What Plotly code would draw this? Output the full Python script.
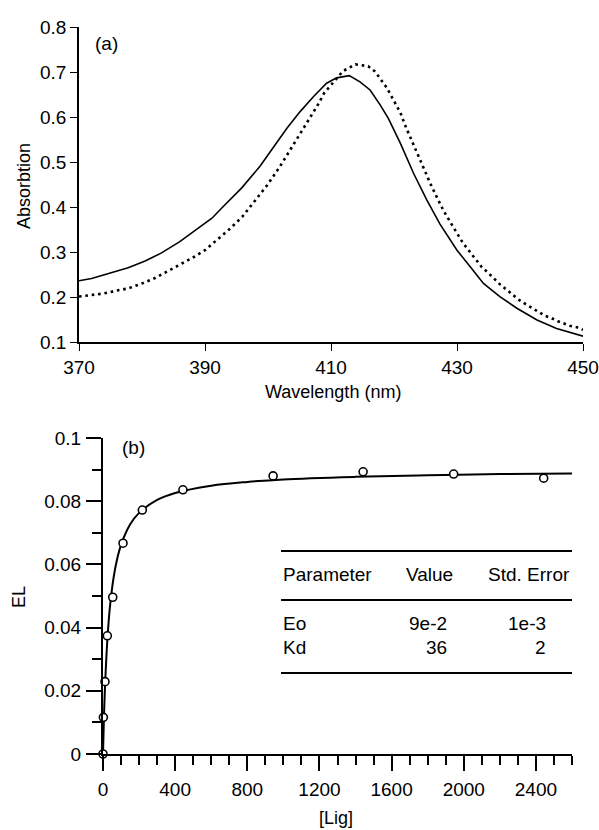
import plotly.graph_objects as go

# panel (a): absorption spectra
wl_solid = [370, 372, 374.7, 377.8, 380.5, 383.1, 386, 388.1, 391.1, 392.9, 395.8, 398.7, 400.6,
            403.0, 405.1, 407.2, 409.3, 410.9, 412.9, 414.6, 416.2, 417.8, 419.1, 421.0, 423.1,
            425.2, 427.3, 428.4, 430, 432.1, 434.2, 436.8, 439.5, 442.7, 445.8, 450]
abs_solid = [0.236, 0.241, 0.252, 0.265, 0.280, 0.298, 0.323, 0.345, 0.375, 0.401, 0.442, 0.490, 0.527,
             0.575, 0.612, 0.645, 0.675, 0.687, 0.692, 0.678, 0.660, 0.627, 0.597, 0.542, 0.475,
             0.416, 0.362, 0.338, 0.304, 0.267, 0.230, 0.201, 0.175, 0.149, 0.130, 0.113]

wl_dot = [370, 372, 374, 375.9, 377.8, 379.8, 381.9, 383.9, 385.9, 388.0, 390.0, 392.0, 393.9,
          395.9, 397.9, 399.9, 401.9, 403.9, 405.9, 406.9, 408.0, 408.9, 409.9, 411.9, 413.9,
          415.9, 417.0, 417.9, 418.9, 419.9, 421.0, 421.9, 422.9, 423.9, 424.9, 425.9, 426.9,
          427.9, 429.0, 430.0, 430.9, 432.0, 432.9, 433.9, 435.0, 435.9, 436.9, 437.9, 438.9,
          439.9, 440.9, 442.0, 443.0, 444.0, 445.0, 446.0, 447.0, 447.9, 449.0, 450]
abs_dot = [0.201, 0.204, 0.208, 0.214, 0.219, 0.229, 0.241, 0.256, 0.271, 0.287, 0.304, 0.328, 0.351,
           0.378, 0.413, 0.449, 0.490, 0.536, 0.580, 0.606, 0.629, 0.653, 0.669, 0.702, 0.717,
           0.713, 0.701, 0.684, 0.664, 0.638, 0.610, 0.577, 0.545, 0.512, 0.478, 0.448, 0.419,
           0.391, 0.365, 0.342, 0.321, 0.301, 0.284, 0.267, 0.253, 0.240, 0.227, 0.216, 0.204,
           0.193, 0.184, 0.175, 0.166, 0.158, 0.153, 0.146, 0.141, 0.136, 0.133, 0.127]

# panel (b): titration points and fitted curve
lig_pts = [0, 2, 11, 24, 54, 111, 218, 443, 943, 1442, 1944, 2443]
el_pts = [0, 0.0116, 0.0229, 0.0374, 0.0496, 0.0667, 0.0772, 0.0836, 0.0880, 0.0893, 0.0886, 0.0873]

lig_fit = [0, 5, 10, 20, 30, 40, 60, 80, 100, 150, 200, 300, 400, 600, 800, 1000, 1400, 1800, 2200, 2600]
el_fit = [0, 0.0110, 0.0196, 0.0321, 0.0409, 0.0474, 0.0563, 0.0621, 0.0662, 0.0726, 0.0763,
          0.0804, 0.0826, 0.0849, 0.0861, 0.0869, 0.0877, 0.0882, 0.0886, 0.0888]

table_header = ["Parameter", "Value", "Std. Error"]
table_rows = [["Eo", "9e-2", "1e-3"], ["Kd", "36", "2"]]

FONT = "Liberation Sans, Arial, sans-serif"
FS = 19

fig = go.Figure()
fig.add_trace(go.Scatter(x=wl_solid, y=abs_solid, mode="lines", line=dict(color="black", width=1.6),
                         xaxis="x", yaxis="y", showlegend=False))
fig.add_trace(go.Scatter(x=wl_dot, y=abs_dot, mode="lines",
                         line=dict(color="black", width=2.6, dash="2.6px,3.8px"),
                         xaxis="x", yaxis="y", showlegend=False))
fig.add_trace(go.Scatter(x=lig_fit, y=el_fit, mode="lines", line=dict(color="black", width=2, shape="spline"),
                         xaxis="x2", yaxis="y2", showlegend=False))
fig.add_trace(go.Scatter(x=lig_pts, y=el_pts, mode="markers",
                         marker=dict(symbol="circle", size=8, color="white", line=dict(color="black", width=1.6)),
                         cliponaxis=False, xaxis="x2", yaxis="y2", showlegend=False))

ax_a = dict(showline=True, linecolor="black", linewidth=1.5, showgrid=False, zeroline=False, automargin=False,
            ticks="outside", ticklen=7, tickwidth=1.2, tickcolor="black",
            tickfont=dict(family=FONT, size=FS, color="black"))
ax_b = dict(showline=True, linecolor="black", linewidth=2, showgrid=False, zeroline=False, automargin=False,
            ticks="outside", ticklen=15, tickwidth=2, tickcolor="black",
            tickfont=dict(family=FONT, size=FS, color="black"))

fig.update_layout(
    width=599, height=830, autosize=False,
    margin=dict(l=0, r=0, t=0, b=0),
    plot_bgcolor="white", paper_bgcolor="white",
    font=dict(family=FONT, color="black", size=FS),
    xaxis=dict(ax_a, domain=[79/599, 583/599], range=[370, 450], tickvals=[370, 390, 410, 430, 450],
               anchor="y"),
    yaxis=dict(ax_a, domain=[1-342/830, 1-27/830], range=[0.1, 0.8], dtick=0.1, anchor="x"),
    xaxis2=dict(ax_b, domain=[103/599, 572/599], range=[0, 2600], tickvals=[0, 400, 800, 1200, 1600, 2000, 2400],
                anchor="y2", ticklabelstandoff=2,
                minor=dict(dtick=100, ticks="outside", ticklen=9, tickwidth=2, tickcolor="black")),
    yaxis2=dict(ax_b, domain=[1-754/830, 1-438/830], range=[0, 0.1], dtick=0.02, anchor="x2",
                ticklabelstandoff=1,
                minor=dict(dtick=0.01, ticks="outside", ticklen=9, tickwidth=2, tickcolor="black")),
)


def label(text, xpx, ypx, xanchor="center", angle=0, size=FS):
    fig.add_annotation(text=text, x=xpx/599, y=1-ypx/830, xref="paper", yref="paper", xanchor=xanchor,
                       yanchor="middle", showarrow=False, textangle=angle, font=dict(size=size))


# axis titles
label("Wavelength (nm)", 333, 392, size=18)
label("Absorbtion", 24, 186, angle=-90, size=18)
label("[Lig]", 336, 818, size=18)
label("EL", 19, 597, angle=-90, size=18)

# panel labels
label("(a)", 93, 43, xanchor="left")
label("(b)", 120, 447, xanchor="left")

# fit-parameter table in panel (b)
for ypx in [551, 600, 673]:
    fig.add_shape(type="line", xref="paper", yref="paper", x0=281/599, x1=572/599, y0=1-ypx/830, y1=1-ypx/830,
                  line=dict(color="black", width=2))
label(table_header[0], 281, 574, xanchor="left")
label(table_header[1], 455, 574, xanchor="right")
label(table_header[2], 572, 574, xanchor="right")
for i, row in enumerate(table_rows):
    ypx = 623 + 24*i
    label(row[0], 281, ypx, xanchor="left")
    label(row[1], 449, ypx, xanchor="right")
    label(row[2], 548, ypx, xanchor="right")

# drop the default 8px page margin so the figure sits at the window's corner
fig.write_html("out.html", config={"displayModeBar": False},
               post_script="document.body.style.margin='0px';document.body.style.overflow='hidden';")
